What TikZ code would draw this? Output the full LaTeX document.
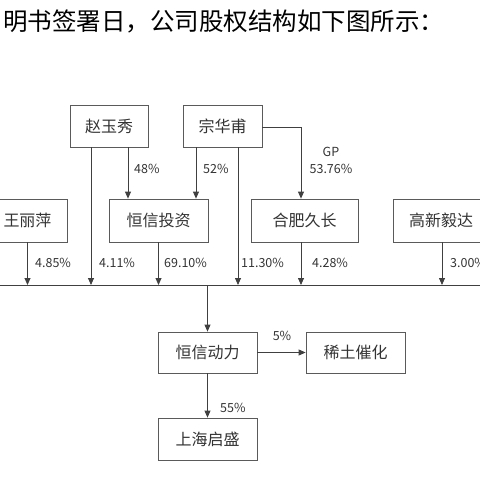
\documentclass[tikz,border=0pt]{standalone}
\usepackage{fontspec}
\setmainfont{Noto Sans CJK SC}
\usetikzlibrary{arrows.meta,calc}
\definecolor{ln}{HTML}{404040}
\definecolor{bx}{HTML}{5A5A5A}
\definecolor{tx}{HTML}{333333}
\begin{document}
\begin{tikzpicture}[x=1pt,y=-1pt,
  box/.style={draw=bx,line width=0.8pt,minimum height=42pt,inner sep=0pt,text=tx,font=\fontsize{16}{16}\selectfont},
  arr/.style={draw=ln,line width=0.8pt,-{Triangle[length=7pt,width=6pt]}},
  lbl/.style={inner sep=0pt,text=tx,font=\fontsize{12.5}{13}\selectfont},
  lw/.style={lbl,anchor=west}]
\useasboundingbox (0,0) rectangle (480,480);
\node[anchor=west,inner sep=0pt,font=\fontsize{24.5}{25}\selectfont] (title) at (3,21) {明书签署日，公司股权结构如下图所示：};
\node[box,minimum width=78pt] (zyx) at (109,126) {赵玉秀};
\node[box,minimum width=79pt] (zhp) at (222.5,126) {宗华甫};
\node[box,minimum width=79pt,minimum height=43pt] (wlp) at (27.5,220.5) {王丽萍};
\node[box,minimum width=99pt,minimum height=43pt] (hxtz) at (158.5,220.5) {恒信投资};
\node[box,minimum width=107pt,minimum height=43pt] (hfjc) at (304.5,220.5) {合肥久长};
\node[box,minimum width=96pt,minimum height=43pt] (gxyd) at (441,220.5) {高新毅达};
\node[box,minimum width=99pt,minimum height=41pt] (hxdl) at (207.5,352.5) {恒信动力};
\node[box,minimum width=99pt,minimum height=41pt] (xtch) at (355.5,352.5) {稀土催化};
\node[box,minimum width=99pt,minimum height=42pt] (shqs) at (207.5,439) {上海启盛};
\coordinate (barL) at (0,285);
\coordinate (barR) at (480,285);
\draw[ln,line width=0.8pt] (barL) -- (barR);
% start points
\coordinate (zyxA) at ($(zyx.south)+(-18,0)$);
\coordinate (zyxB) at ($(zyx.south)+(19,0)$);
\coordinate (zhpA) at ($(zhp.south)+(-26.5,0)$);
\coordinate (zhpB) at ($(zhp.south)+(15.5,0)$);
\coordinate (zhpE) at ($(zhp.east)+(0,1)$);
\coordinate (hfjcS) at ($(hfjc.south)+(-3.5,0)$);
\coordinate (hfjcN) at ($(hfjc.north)+(-3.5,0)$);
\coordinate (gxydS) at ($(gxyd.south)+(1,0)$);
% to bar
\draw[arr] (wlp.south) -- (wlp.south |- barL);
\draw[arr] (zyxA) -- (zyxA |- barL);
\draw[arr] (hxtz.south) -- (hxtz.south |- barL);
\draw[arr] (zhpB) -- (zhpB |- barL);
\draw[arr] (hfjcS) -- (hfjcS |- barL);
\draw[arr] (gxydS) -- (gxydS |- barL);
% to hxtz
\draw[arr] (zyxB) -- (zyxB |- hxtz.north);
\draw[arr] (zhpA) -- (zhpA |- hxtz.north);
% zhp to hfjc
\draw[arr] (zhpE) -| (hfjcN);
% bar to hxdl
\draw[arr] (hxdl.north |- barL) -- (hxdl.north);
\draw[arr] (hxdl.east) -- (xtch.west);
\draw[arr] (hxdl.south) -- (shqs.north);
% labels
\node[lw] (l1) at (35,263) {4.85\%};
\node[lw] (l2) at (99,263) {4.11\%};
\node[lw] (l3) at (164,263) {69.10\%};
\node[lw] (l4) at (241,263) {11.30\%};
\node[lw] (l5) at (312,263) {4.28\%};
\node[lw] (l6) at (450,263) {3.00\%};
\node[lw] (l7) at (134,169) {48\%};
\node[lw] (l8) at (203,169) {52\%};
\node[lbl] (l9) at (331,152) {GP};
\node[lbl] (l10) at (331,169) {53.76\%};
\node[lbl] (l11) at (282,336) {5\%};
\node[lw] (l12) at (220,408) {55\%};
\end{tikzpicture}
\end{document}
